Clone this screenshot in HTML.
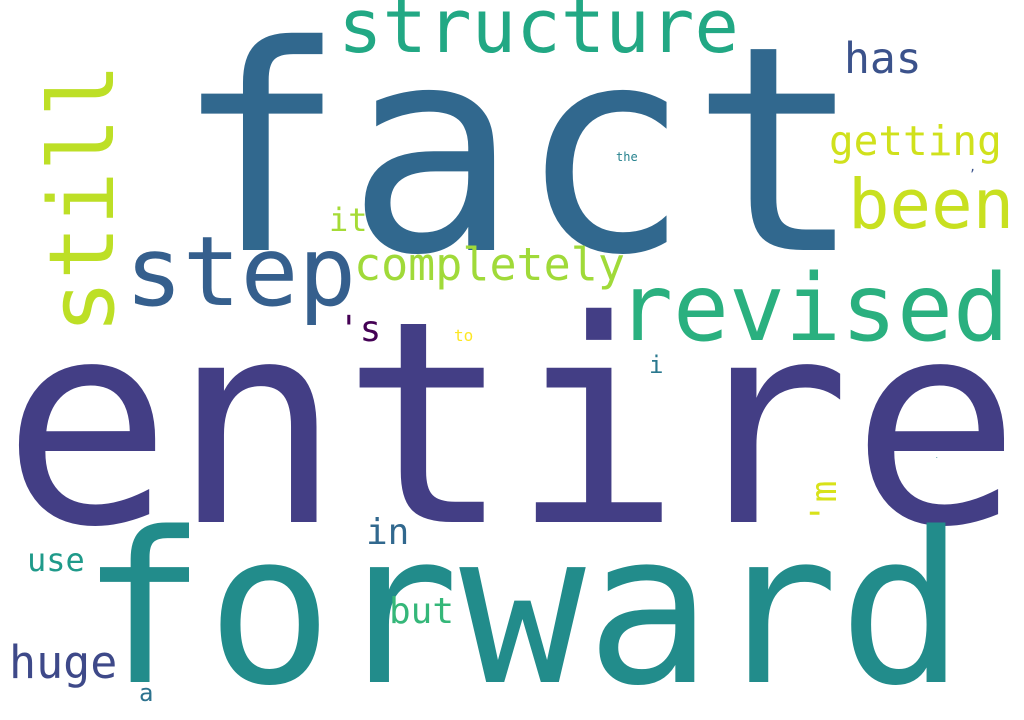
<!DOCTYPE html>
<html>
<head>
<meta charset="utf-8">
<style>
  html, body { margin: 0; padding: 0; background: #ffffff; }
  svg { display: block; }
  text { font-family: "DejaVu Sans Mono", "Liberation Mono", monospace; }
</style>
</head>
<body>
<svg width="1024" height="720" viewBox="0 0 1024 720">
  <rect width="1024" height="720" fill="#ffffff"/>
  <text x="174" y="250" font-size="286" fill="#31688e">fact</text>
  <text x="2" y="522" font-size="282" fill="#433e85">entire</text>
  <text x="80" y="682" font-size="210" fill="#228c8b">forward</text>
  <text x="125" y="305" font-size="96" fill="#355f8d">step</text>
  <text x="0" y="0" font-size="90" fill="#bddf26" transform="translate(113,334) rotate(-90)">still</text>
  <text x="338" y="52" font-size="74" fill="#22a884">structure</text>
  <text x="617" y="340" font-size="93" fill="#2ab07f">revised</text>
  <text x="848" y="228" font-size="69" fill="#c8e020">been</text>
  <text x="354" y="280" font-size="45" fill="#a0da39">completely</text>
  <text x="829" y="155" font-size="41" fill="#d0e11c">getting</text>
  <text x="844" y="73" font-size="43" fill="#3b528b">has</text>
  <text x="9" y="678" font-size="45" fill="#3e4989">huge</text>
  <text x="27" y="571" font-size="32" fill="#1f9a8a">use</text>
  <text x="366" y="544" font-size="36" fill="#31688e">in</text>
  <text x="389" y="623" font-size="36" fill="#35b779">but</text>
  <text x="329" y="231" font-size="32" fill="#a5db36">it</text>
  <text x="338" y="341" font-size="36" fill="#440154">'s</text>
  <text x="139" y="701" font-size="24" fill="#2c728e">a</text>
  <text x="649" y="373" font-size="24" fill="#2a788e">i</text>
  <text x="454" y="341" font-size="16" fill="#fde725">to</text>
  <text x="616" y="161" font-size="12" fill="#26828e">the</text>
  <text x="0" y="0" font-size="36" fill="#d8e219" transform="translate(836,524) rotate(-90)">'m</text>
  <text x="969" y="171" font-size="12" fill="#3b528b">,</text>
  <text x="935" y="458" font-size="6" fill="#26828e">.</text>
</svg>
</body>
</html>
